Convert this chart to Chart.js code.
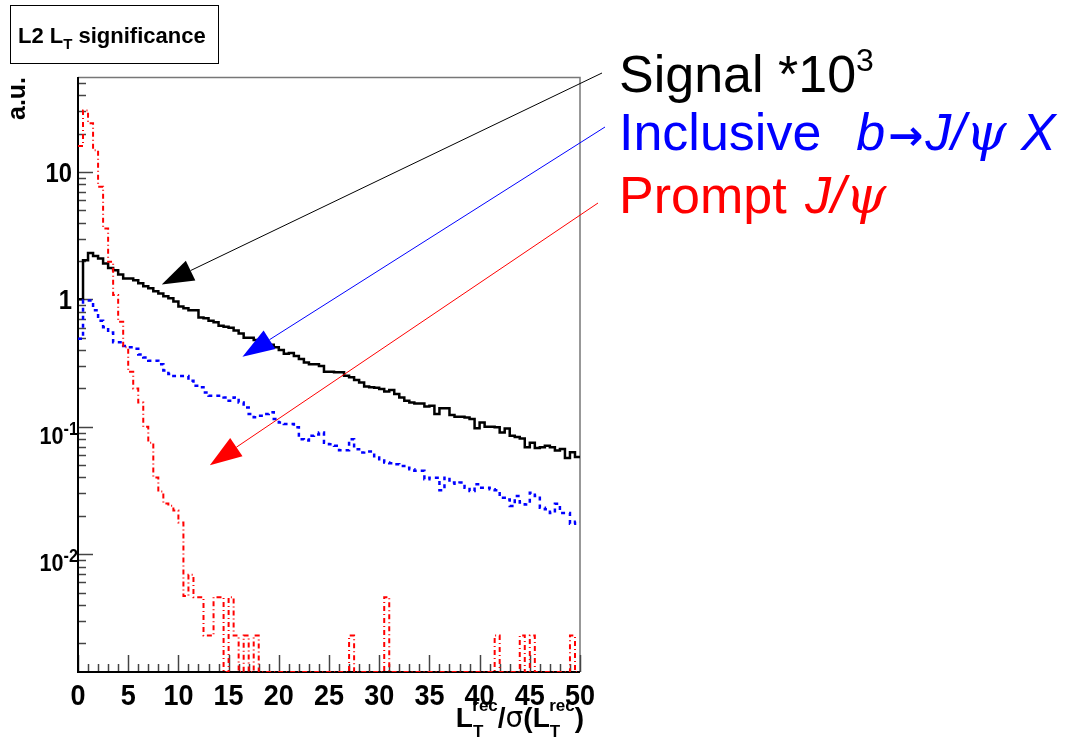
<!DOCTYPE html>
<html>
<head>
<meta charset="utf-8">
<title>L2 LT significance</title>
<script src="https://cdn.jsdelivr.net/npm/chart.js@4.4.1/dist/chart.umd.min.js"></script>
<style>
  html, body { margin: 0; padding: 0; background: #fff; }
  #wrap { width: 1065px; height: 740px; position: relative; }
</style>
</head>
<body>
<div id="wrap"><canvas id="ltsig"></canvas></div>
<script>
// histogram binning: 100 bins of 0.5 between 0 and 50
const xMin = 0, xMax = 50, nBins = 100;
const yMin = 0.00119, yMax = 55.6;

// Signal (*10^3), solid black
const signal = [
  1.00, 2.03, 2.31, 2.19, 2.09, 1.91, 1.76, 1.69, 1.57, 1.46,
  1.46, 1.41, 1.34, 1.27, 1.22, 1.16, 1.11, 1.06, 1.02, 0.96,
  0.88, 0.85, 0.82, 0.82, 0.72, 0.71, 0.68, 0.66, 0.62, 0.61,
  0.60, 0.57, 0.54, 0.50, 0.50, 0.48, 0.48, 0.46, 0.44, 0.42,
  0.40, 0.375, 0.38, 0.36, 0.34, 0.32, 0.31, 0.31, 0.30, 0.27,
  0.27, 0.268, 0.268, 0.252, 0.245, 0.233, 0.223, 0.207, 0.204, 0.202,
  0.198, 0.189, 0.194, 0.181, 0.170, 0.160, 0.155, 0.152, 0.152, 0.144,
  0.146, 0.126, 0.140, 0.140, 0.124, 0.120, 0.120, 0.118, 0.115, 0.0976,
  0.108, 0.100, 0.100, 0.099, 0.090, 0.097, 0.085, 0.083, 0.081, 0.069,
  0.075, 0.068, 0.069, 0.071, 0.069, 0.065, 0.067, 0.057, 0.063, 0.058
];

// Inclusive b -> J/psi X, dashed blue
const inclusive = [
  0.49, 0.98, 0.98, 0.82, 0.68, 0.605, 0.55, 0.46, 0.46, 0.43,
  0.42, 0.41, 0.37, 0.35, 0.33, 0.33, 0.31, 0.276, 0.26, 0.25,
  0.25, 0.25, 0.23, 0.21, 0.204, 0.186, 0.175, 0.175, 0.175, 0.17,
  0.16, 0.17, 0.155, 0.142, 0.126, 0.119, 0.122, 0.126, 0.13, 0.115,
  0.108, 0.105, 0.105, 0.099, 0.080, 0.078, 0.085, 0.087, 0.090, 0.075,
  0.073, 0.0709, 0.0655, 0.0655, 0.080, 0.0667, 0.0628, 0.064, 0.064, 0.0574,
  0.0557, 0.0524, 0.0518, 0.0508, 0.0493, 0.0478, 0.0464, 0.0451, 0.0451, 0.0388,
  0.0399, 0.0399, 0.0318, 0.0399, 0.0365, 0.0358, 0.0365, 0.0333, 0.0313, 0.0354,
  0.0333, 0.0333, 0.0323, 0.0318, 0.0277, 0.0269, 0.0239, 0.0286, 0.0254, 0.0246,
  0.0304, 0.0286, 0.0232, 0.0225, 0.0211, 0.0249, 0.0211, 0.0211, 0.0173, 0.0180
];

// Prompt J/psi, dash-dot red (empty bins are 0)
const prompt = [
  16.0, 30.4, 24.1, 14.8, 7.66, 3.60, 1.97, 1.08, 0.667, 0.42,
  0.27, 0.20, 0.155, 0.100, 0.075, 0.040, 0.031, 0.025, 0.024, 0.022,
  0.0177, 0.0047, 0.0069, 0.0046, 0.0046, 0.0023, 0.0023, 0.0046, 0.0046, 0,
  0.0046, 0.0023, 0, 0.0023, 0, 0.0023, 0, 0, 0, 0,
  0, 0, 0, 0, 0, 0, 0, 0, 0, 0,
  0, 0, 0, 0, 0.0023, 0, 0, 0, 0, 0,
  0, 0.0046, 0, 0, 0, 0, 0, 0, 0, 0,
  0, 0, 0, 0, 0, 0, 0, 0, 0, 0,
  0, 0, 0, 0.0023, 0, 0, 0, 0, 0.0023, 0,
  0.0023, 0, 0, 0, 0, 0, 0, 0, 0.0023, 0
];

const xMajor = [0, 5, 10, 15, 20, 25, 30, 35, 40, 45, 50];
const xLabels = ['0', '5', '10', '15', '20', '25', '30', '35', '40', '45', '50'];
const yMajor = [0.01, 0.1, 1, 10];
const yLabelBase = ['10', '10', '1', '10'];
const yLabelExp = ['-2', '-1', '', ''];

// arrow tips sit on the data (x, y); tails start next to the legend text
const arrows = [
  { color: '#000000', tipX: 8.34, tipY: 1.31, tail: [602, 73] },
  { color: '#0000ff', tipX: 16.38, tipY: 0.354, tail: [605, 127] },
  { color: '#ff0000', tipX: 13.13, tipY: 0.050, tail: [598, 203] }
];

const binWidth = (xMax - xMin) / nBins;

// one point per left bin edge plus a closing point at the upper edge;
// empty bins sit on the frame floor like ROOT does on a log axis
function histPoints(values) {
  const pts = values.map((v, i) => ({ x: xMin + i * binWidth, y: v > 0 ? v : yMin }));
  pts.push({ x: xMax, y: pts[pts.length - 1].y });
  return pts;
}

const FONT = 'Liberation Sans';

// draws a run of text pieces left to right; returns the width
function drawRuns(ctx, parts, x, y, align, color) {
  const measure = () => parts.reduce((w, p) => {
    ctx.font = `${p.style || 'normal'} ${p.weight || 'normal'} ${p.size}px "${p.family || FONT}"`;
    return w + ctx.measureText(p.t).width * (p.sx || 1) + (p.gap || 0);
  }, 0);
  const total = measure();
  let cx = align === 'right' ? x - total : align === 'center' ? x - total / 2 : x;
  ctx.save();
  ctx.fillStyle = color || '#000';
  ctx.textBaseline = 'alphabetic';
  ctx.textAlign = 'left';
  for (const p of parts) {
    ctx.font = `${p.style || 'normal'} ${p.weight || 'normal'} ${p.size}px "${p.family || FONT}"`;
    const w = ctx.measureText(p.t).width * (p.sx || 1);
    ctx.save();
    ctx.translate(cx, y + (p.dy || 0));
    ctx.scale(p.sx || 1, 1);
    ctx.fillText(p.t, 0, 0);
    ctx.restore();
    cx += w + (p.gap || 0);
  }
  ctx.restore();
  return total;
}

function arrow(ctx, x0, y0, x1, y1, color) {
  const len = Math.hypot(x1 - x0, y1 - y0);
  const ux = (x1 - x0) / len, uy = (y1 - y0) / len;
  const headLen = 32, headHalf = 11;
  const bx = x1 - ux * headLen, by = y1 - uy * headLen;
  ctx.save();
  ctx.strokeStyle = color;
  ctx.fillStyle = color;
  ctx.lineWidth = 1;
  ctx.beginPath();
  ctx.moveTo(x0, y0);
  ctx.lineTo(bx, by);
  ctx.stroke();
  ctx.beginPath();
  ctx.moveTo(x1, y1);
  ctx.lineTo(bx - uy * headHalf, by + ux * headHalf);
  ctx.lineTo(bx + uy * headHalf, by - ux * headHalf);
  ctx.closePath();
  ctx.fill();
  ctx.restore();
}

// ROOT style frame: inward ticks, bold labels, title box and annotations
const rootFrame = {
  id: 'rootFrame',
  beforeDatasetsDraw(chart) {
    const { ctx, chartArea: a, scales: { x, y } } = chart;
    ctx.save();
    ctx.strokeStyle = '#777';
    ctx.lineWidth = 1.5;
    ctx.beginPath();
    ctx.moveTo(a.left, a.top + 0.5);
    ctx.lineTo(a.right, a.top + 0.5);
    ctx.lineTo(a.right, a.bottom);
    ctx.stroke();

    ctx.strokeStyle = '#444';
    ctx.lineWidth = 1.5;
    // x ticks: major every 5, minor every 1
    for (let v = xMin; v <= xMax; v += 1) {
      const px = Math.round(x.getPixelForValue(v)) + 0.5;
      const len = v % 5 === 0 ? 17 : 8;
      ctx.beginPath();
      ctx.moveTo(px, a.bottom);
      ctx.lineTo(px, a.bottom - len);
      ctx.stroke();
    }
    // y ticks: decades and 2..9 subdivisions
    for (let e = -3; e <= 1; e++) {
      for (let m = 1; m <= 9; m++) {
        const v = m * Math.pow(10, e);
        if (v < yMin || v > yMax) continue;
        const py = Math.round(y.getPixelForValue(v)) + 0.5;
        const len = m === 1 ? 15 : 8;
        ctx.beginPath();
        ctx.moveTo(a.left, py);
        ctx.lineTo(a.left + len, py);
        ctx.stroke();
      }
    }

    ctx.strokeStyle = '#000';
    ctx.lineWidth = 2;
    ctx.beginPath();
    ctx.moveTo(a.left, a.top);
    ctx.lineTo(a.left, a.bottom);
    ctx.lineTo(a.right, a.bottom);
    ctx.stroke();
    ctx.restore();
  },
  afterDatasetsDraw(chart) {
    const { ctx, chartArea: a, scales: { x, y } } = chart;

    // x tick labels
    xMajor.forEach((v, i) => {
      drawRuns(ctx, [{ t: xLabels[i], size: 30, weight: 'bold', sx: 0.9 }],
        x.getPixelForValue(v), a.bottom + 33, 'center');
    });
    // y tick labels
    yMajor.forEach((v, i) => {
      const py = y.getPixelForValue(v);
      if (yLabelExp[i]) {
        drawRuns(ctx, [
          { t: yLabelBase[i], size: 24, weight: 'bold', sx: 0.9 },
          { t: yLabelExp[i], size: 18, weight: 'bold', sx: 0.9, dy: -9 }
        ], a.left, py + 17, 'right');
      } else {
        drawRuns(ctx, [{ t: yLabelBase[i], size: 28, weight: 'bold', sx: 0.85 }],
          a.left - 6, py + 10, 'right');
      }
    });

    // x axis title
    drawRuns(ctx, [
      { t: 'L', size: 28, weight: 'bold' },
      { t: 'T', size: 17, weight: 'bold', dy: 10, gap: -11 },
      { t: 'rec', size: 17, weight: 'bold', dy: -16 },
      { t: '/', size: 28, weight: 'bold' },
      { t: 'σ', size: 28, family: 'DejaVu Sans' },
      { t: '(', size: 28, weight: 'bold' },
      { t: 'L', size: 28, weight: 'bold' },
      { t: 'T', size: 17, weight: 'bold', dy: 10, gap: -11 },
      { t: 'rec', size: 17, weight: 'bold', dy: -16 },
      { t: ')', size: 28, weight: 'bold' }
    ], 584, 727, 'right');

    // y axis title, rotated
    ctx.save();
    ctx.translate(25, 120);
    ctx.rotate(-Math.PI / 2);
    drawRuns(ctx, [{ t: 'a.u.', size: 25, weight: 'bold' }], 0, 0, 'left');
    ctx.restore();

    // title box
    ctx.save();
    ctx.fillStyle = '#fff';
    ctx.fillRect(10.5, 5.5, 208, 58);
    ctx.strokeStyle = '#000';
    ctx.lineWidth = 1;
    ctx.strokeRect(10.5, 5.5, 208, 58);
    ctx.restore();
    drawRuns(ctx, [
      { t: 'L2 L', size: 22, weight: 'bold' },
      { t: 'T', size: 15, weight: 'bold', dy: 6 },
      { t: ' significance', size: 22, weight: 'bold' }
    ], 18, 43, 'left');

    // legend text
    drawRuns(ctx, [
      { t: 'Signal *10', size: 52 },
      { t: '3', size: 32, dy: -21 }
    ], 619, 92, 'left', '#000000');
    drawRuns(ctx, [
      { t: 'Inclusive  ', size: 52, gap: 6 },
      { t: 'b', size: 52, style: 'italic', gap: 3 },
      { t: '→', size: 42, weight: 'bold', family: 'DejaVu Sans', gap: 2 },
      { t: 'J/', size: 52, style: 'italic' },
      { t: 'ψ', size: 52, style: 'italic', family: 'DejaVu Serif' },
      { t: ' X', size: 52, style: 'italic' }
    ], 619, 150, 'left', '#0000ff');
    drawRuns(ctx, [
      { t: 'Prompt ', size: 52, gap: 4 },
      { t: 'J/', size: 52, style: 'italic' },
      { t: 'ψ', size: 52, style: 'italic', family: 'DejaVu Serif' }
    ], 619, 213, 'left', '#ff0000');

    arrows.forEach(ar => {
      arrow(ctx, ar.tail[0], ar.tail[1],
        x.getPixelForValue(ar.tipX), y.getPixelForValue(ar.tipY), ar.color);
    });
  }
};

new Chart(document.getElementById('ltsig'), {
  type: 'line',
  data: {
    datasets: [
      {
        label: 'Prompt J/psi',
        data: histPoints(prompt),
        borderColor: '#ff0000',
        borderWidth: 2,
        borderDash: [5, 3, 1, 3],
        stepped: true,
        pointRadius: 0,
        fill: false
      },
      {
        label: 'Inclusive b -> J/psi X',
        data: histPoints(inclusive),
        borderColor: '#0000ff',
        borderWidth: 2.5,
        borderDash: [4, 4],
        stepped: true,
        pointRadius: 0,
        fill: false
      },
      {
        label: 'Signal *10^3',
        data: histPoints(signal),
        borderColor: '#000000',
        borderWidth: 2.5,
        stepped: true,
        pointRadius: 0,
        fill: false
      }
    ]
  },
  options: {
    responsive: true,
    maintainAspectRatio: false,
    animation: false,
    layout: { padding: { left: 78, top: 77, right: 485, bottom: 68 } },
    plugins: { legend: { display: false }, tooltip: { enabled: false } },
    scales: {
      x: { type: 'linear', min: xMin, max: xMax, display: false },
      y: { type: 'logarithmic', min: yMin, max: yMax, display: false }
    }
  },
  plugins: [rootFrame]
});
</script>
</body>
</html>
